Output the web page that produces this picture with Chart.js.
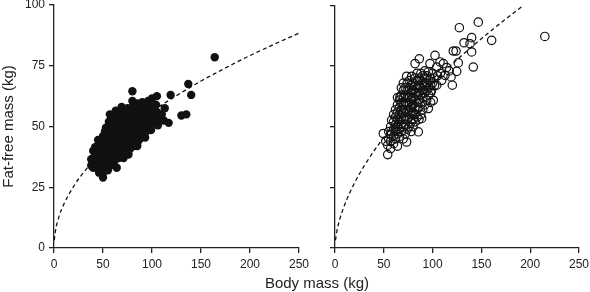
<!DOCTYPE html>
<html>
<head><meta charset="utf-8">
<title>Fat-free mass vs body mass</title>
<script src="https://cdn.jsdelivr.net/npm/chart.js"></script>
<style>
  body { margin: 0; background: #fff; }
  #wrap { position: relative; width: 590px; height: 292px; }
  canvas { position: absolute; top: 0; }
  #xTitle { position: absolute; left: 217px; width: 200px; top: 274px; text-align: center;
            font: 15px "Liberation Sans", Arial, sans-serif; line-height: 18px; color: #222; }
</style>
</head>
<body>
<div id="wrap">
  <canvas id="leftChart" width="310" height="292" style="left:0"></canvas>
  <canvas id="rightChart" width="309" height="292" style="left:281px"></canvas>
  <div id="xTitle">Body mass (kg)</div>
</div>
<script>
// axis ticks
var massTicks = [0, 50, 100, 150, 200, 250];
var ffmTicks = [0, 25, 50, 75, 100];

// left panel: [body mass, fat-free mass]
var leftPoints = [
  [38,34],[38,36.5],[39,33.5],
  [40,33],[40,35],[40,37],[40,40],
  [42,34],[42,36],[42,38],[42,41.5],
  [44,33],[44,35],[44,37],[44,39],[44,42],[45,44.5],
  [46,31],[46,33.5],[46,36],[46,38],[46,40],[46,43],
  [48,32],[48,34],[48,36],[48,38],[48,40.5],[48,43],
  [50,29],[50,31],[50,33],[50,35],[50,37],[50,39],[50,41],[50,44],[50,46],
  [52,32],[52,34],[52,36],[52,38],[52,40],[52,42],[52,45],[52,48],[53,49.5],
  [54,33],[54,35],[54,37],[54,39],[54,41],[54,43],[54,46],[54,49],[55,32],
  [56,34],[56,36],[56,38],[56,40],[56,42],[56,44],[56,47],[56,50],[56,52],[57,55],
  [58,34],[58,36],[58,38],[58,40],[58,42],[58,44],[58,46],[58,48],[58,51],[58,53],
  [60,35],[60,37],[60,39],[60,41],[60,43],[60,45],[60,47],[60,49],[60,51],[60,54],
  [62,36],[62,38],[62,40],[62,42],[62,44],[62,46],[62,48],[62,50],[62,52],[62,55],[63,56.5],
  [64,33],[64,37],[64,39],[64,41],[64,43],[64,45],[64,47],[64,49],[64,51],[64,53],
  [66,37],[66,39],[66,41],[66,43],[66,45],[66,47],[66,49],[66,51],[66,53],[66,56],
  [68,38],[68,40],[68,42],[68,44],[68,46],[68,48],[68,50],[68,52],[68,54],[69,58],
  [70,38],[70,40],[70,42],[70,44],[70,46],[70,48],[70,50],[70,52],[70,54],[70,57],[71,37],
  [72,39],[72,41],[72,43],[72,45],[72,47],[72,49],[72,51],[72,53],[72,55],
  [74,40],[74,42],[74,44],[74,46],[74,48],[74,50],[74,52],[74,54],[74,56],[75,57.5],
  [76,40],[76,42],[76,44],[76,46],[76,48],[76,50],[76,52],[76,54],[76,56],[76,38.5],
  [78,41],[78,43],[78,45],[78,47],[78,49],[78,51],[78,53],[78,55],[78,57],
  [80,42],[80,44],[80,46],[80,48],[80,50],[80,52],[80,54],[80,56],[80,58],[80,60.5],[80,64.5],
  [82,42],[82,44],[82,46],[82,48],[82,50],[82,52],[82,54],[82,56],[82,58],
  [84,43],[84,45],[84,47],[84,49],[84,51],[84,53],[84,55],[84,57],[85,59.5],[85,42],
  [86,44],[86,46],[86,48],[86,50],[86,52],[86,54],[86,56],[86,58],
  [88,45],[88,47],[88,49],[88,51],[88,53],[88,55],[88,57],
  [90,46],[90,48],[90,50],[90,52],[90,54],[90,56],[90,58],[90,60],
  [92,47],[92,49],[92,51],[92,53],[92,55],[92,57],[93,45.5],
  [94,48],[94,50],[94,52],[94,54],[94,56],[94,58],
  [96,49],[96,51],[96,53],[96,55],[96,57],[96,60.5],
  [98,50],[98,52],[98,54],[98,56],[98,58],[99,48.5],
  [100,51],[100,53],[100,55],[100,57],[100,61.5],
  [102,52],[102,55],[102,57],[104,59],
  [105,52],[105,56],[105,62.5],[106,50.5],
  [108,53],[110,55],[112,52.5],[113,57.5],[117,51.5],[119,63],
  [130,54.5],[135,55],[137,67.5],[140,63],[164,78.5]
];

// right panel: [body mass, fat-free mass]
var rightPoints = [
  [49.5,47.2],[52,44],[54,38.5],[54,42.4],[55,45],[55,48],
  [57,41],[57,44],[57,47],[57,50],[58,52.7],
  [60,43],[60,46],[60,49],[60,52],[60,55],
  [62,45],[62,48],[62,51],[62,54],[62,57],
  [64,42],[64,47],[64,50],[64,53],[64,56],[64,59],[64,62],
  [66,46],[66,49],[66,52],[66,55],[66,58],[66,61],[66.6,62.3],
  [68,48],[68,51],[68,54],[68,57],[68,60],[68,63],[68,66],
  [70,45],[70,50],[70,53],[70,56],[70,59],[70,62],[70,65],[70,68],
  [72,47],[72,51],[72,54],[72,57],[72,60],[72,63],[72,66],[73.4,70.8],
  [73.4,43.7],[74,49],[74,53],[74,56],[74,59],[74,62],[74,65],[74,68],
  [76,50],[76,54],[76,57],[76,60],[76,63],[76,66],[76,69],
  [78,48],[78,52],[78,55],[78,58],[78,61],[78,64],[78,67],[78.6,70.8],
  [80,50],[80,53],[80,56],[80,59],[80,62],[80,65],[80,68],
  [82,52],[82,55],[82,58],[82,61],[82,64],[82,67],[82,70],[82,76],
  [84,54],[84,57],[84,60],[84,63],[84,66],[84,69],[84,72],
  [85.4,47.9],[86,53],[86,58],[86,61],[86,64],[86,67],[86,70],[86.4,78],
  [88,55],[88.8,53.4],[88,60],[88,63],[88,66],[88,69],[88,72],
  [90,57],[90,62],[90,65],[90,68],[90,71],
  [92,59],[92,64],[92,67],[92,70],[92,73],
  [94,61],[94,65],[94,68],[94,71],
  [95.6,57.5],[96,63],[96,66],[96,69],[95.6,72.6],[97.3,76],
  [98,60],[98,64],[98,67],[98,70],
  [99,65],[100.7,60.9],[100,68],[100,72],
  [102,67],[102,70],[102.5,79.4],[104.2,74.6],[104.2,67.1],
  [105,71],[107.6,76.7],[108,72],[109.3,69.1],[111,76],
  [112.7,71.2],[114.4,74.4],[117,73],[118.9,70.5],[120.2,67.1],
  [121.2,81.2],[124,81.2],[124.7,72.8],[126.3,76.3],[127.4,90.8],
  [132.2,84.6],[138.3,84.2],[140,86.7],[140,80.8],[141.7,74.6],
  [146.8,93.1],[160.5,85.6],[215,87.2]
];

// dashed fitted curves
var leftCurveMass = [0.3, 1, 5, 10, 20, 30, 50, 75, 100, 125, 150, 175, 200, 225, 250];
var leftCurveFfm = [3.2, 5.8, 12.8, 18, 25.3, 31, 39.9, 48.7, 56.2, 62.7, 68.7, 74.1, 79.2, 83.9, 88.4];
var rightCurveMass = [0.5, 2, 5, 10, 20, 30, 50, 75, 100, 125, 150, 175, 193];
var rightCurveFfm = [3.2, 7.1, 12, 17.9, 26.8, 33.9, 45.6, 57.7, 68.2, 77.6, 86.3, 94.4, 100];

var FONT = '"Liberation Sans", Arial, sans-serif';
var AXIS = '#222';

function toXY(pairs) {
  return pairs.map(function (p) { return { x: p[0], y: p[1] }; });
}
function curveXY(xs, ys) {
  return xs.map(function (x, i) { return { x: x, y: ys[i] }; });
}

function makeChart(id, points, filled, cxs, cys, showY) {
  new Chart(document.getElementById(id), {
    type: 'scatter',
    data: {
      datasets: [
        {
          data: toXY(points),
          pointRadius: 4.2,
          pointHoverRadius: 4.2,
          pointBorderWidth: filled ? 0 : 1.2,
          pointBorderColor: '#111',
          pointBackgroundColor: filled ? '#111' : 'rgba(0,0,0,0)'
        },
        {
          data: curveXY(cxs, cys),
          showLine: true,
          pointRadius: 0,
          borderColor: '#111',
          borderWidth: 1.3,
          borderDash: [4, 3],
          cubicInterpolationMode: 'monotone',
          fill: false
        }
      ]
    },
    options: {
      responsive: false,
      animation: false,
      events: [],
      layout: { padding: { top: 5, right: 11, left: 0, bottom: 0 } },
      plugins: { legend: { display: false }, tooltip: { enabled: false } },
      scales: {
        x: {
          type: 'linear', min: 0, max: 250,
          afterBuildTicks: function (s) { s.ticks = massTicks.map(function (v) { return { value: v }; }); },
          ticks: { font: { family: FONT, size: 12 }, color: AXIS, padding: 4, maxRotation: 0 },
          grid: { drawOnChartArea: false, drawTicks: true, tickLength: 5, color: AXIS, lineWidth: 1.3 },
          border: { color: AXIS, width: 1.3 },
          afterFit: function (s) { s.height = 44; s.paddingLeft = 0; s.paddingRight = 0; }
        },
        y: {
          type: 'linear', min: 0, max: 100,
          afterBuildTicks: function (s) { s.ticks = ffmTicks.map(function (v) { return { value: v }; }); },
          ticks: { display: showY, font: { family: FONT, size: 12 }, color: AXIS, padding: 4 },
          grid: { drawOnChartArea: false, drawTicks: true, tickLength: 5, color: AXIS, lineWidth: 1.3 },
          border: { color: AXIS, width: 1.3 },
          title: { display: showY, text: 'Fat-free mass (kg)', font: { family: FONT, size: 15 }, color: AXIS, padding: 0 },
          afterFit: function (s) { s.width = 54; s.paddingTop = 0; s.paddingBottom = 0; }
        }
      }
    }
  });
}

makeChart('leftChart', leftPoints, true, leftCurveMass, leftCurveFfm, true);
makeChart('rightChart', rightPoints, false, rightCurveMass, rightCurveFfm, false);
</script>
</body>
</html>
